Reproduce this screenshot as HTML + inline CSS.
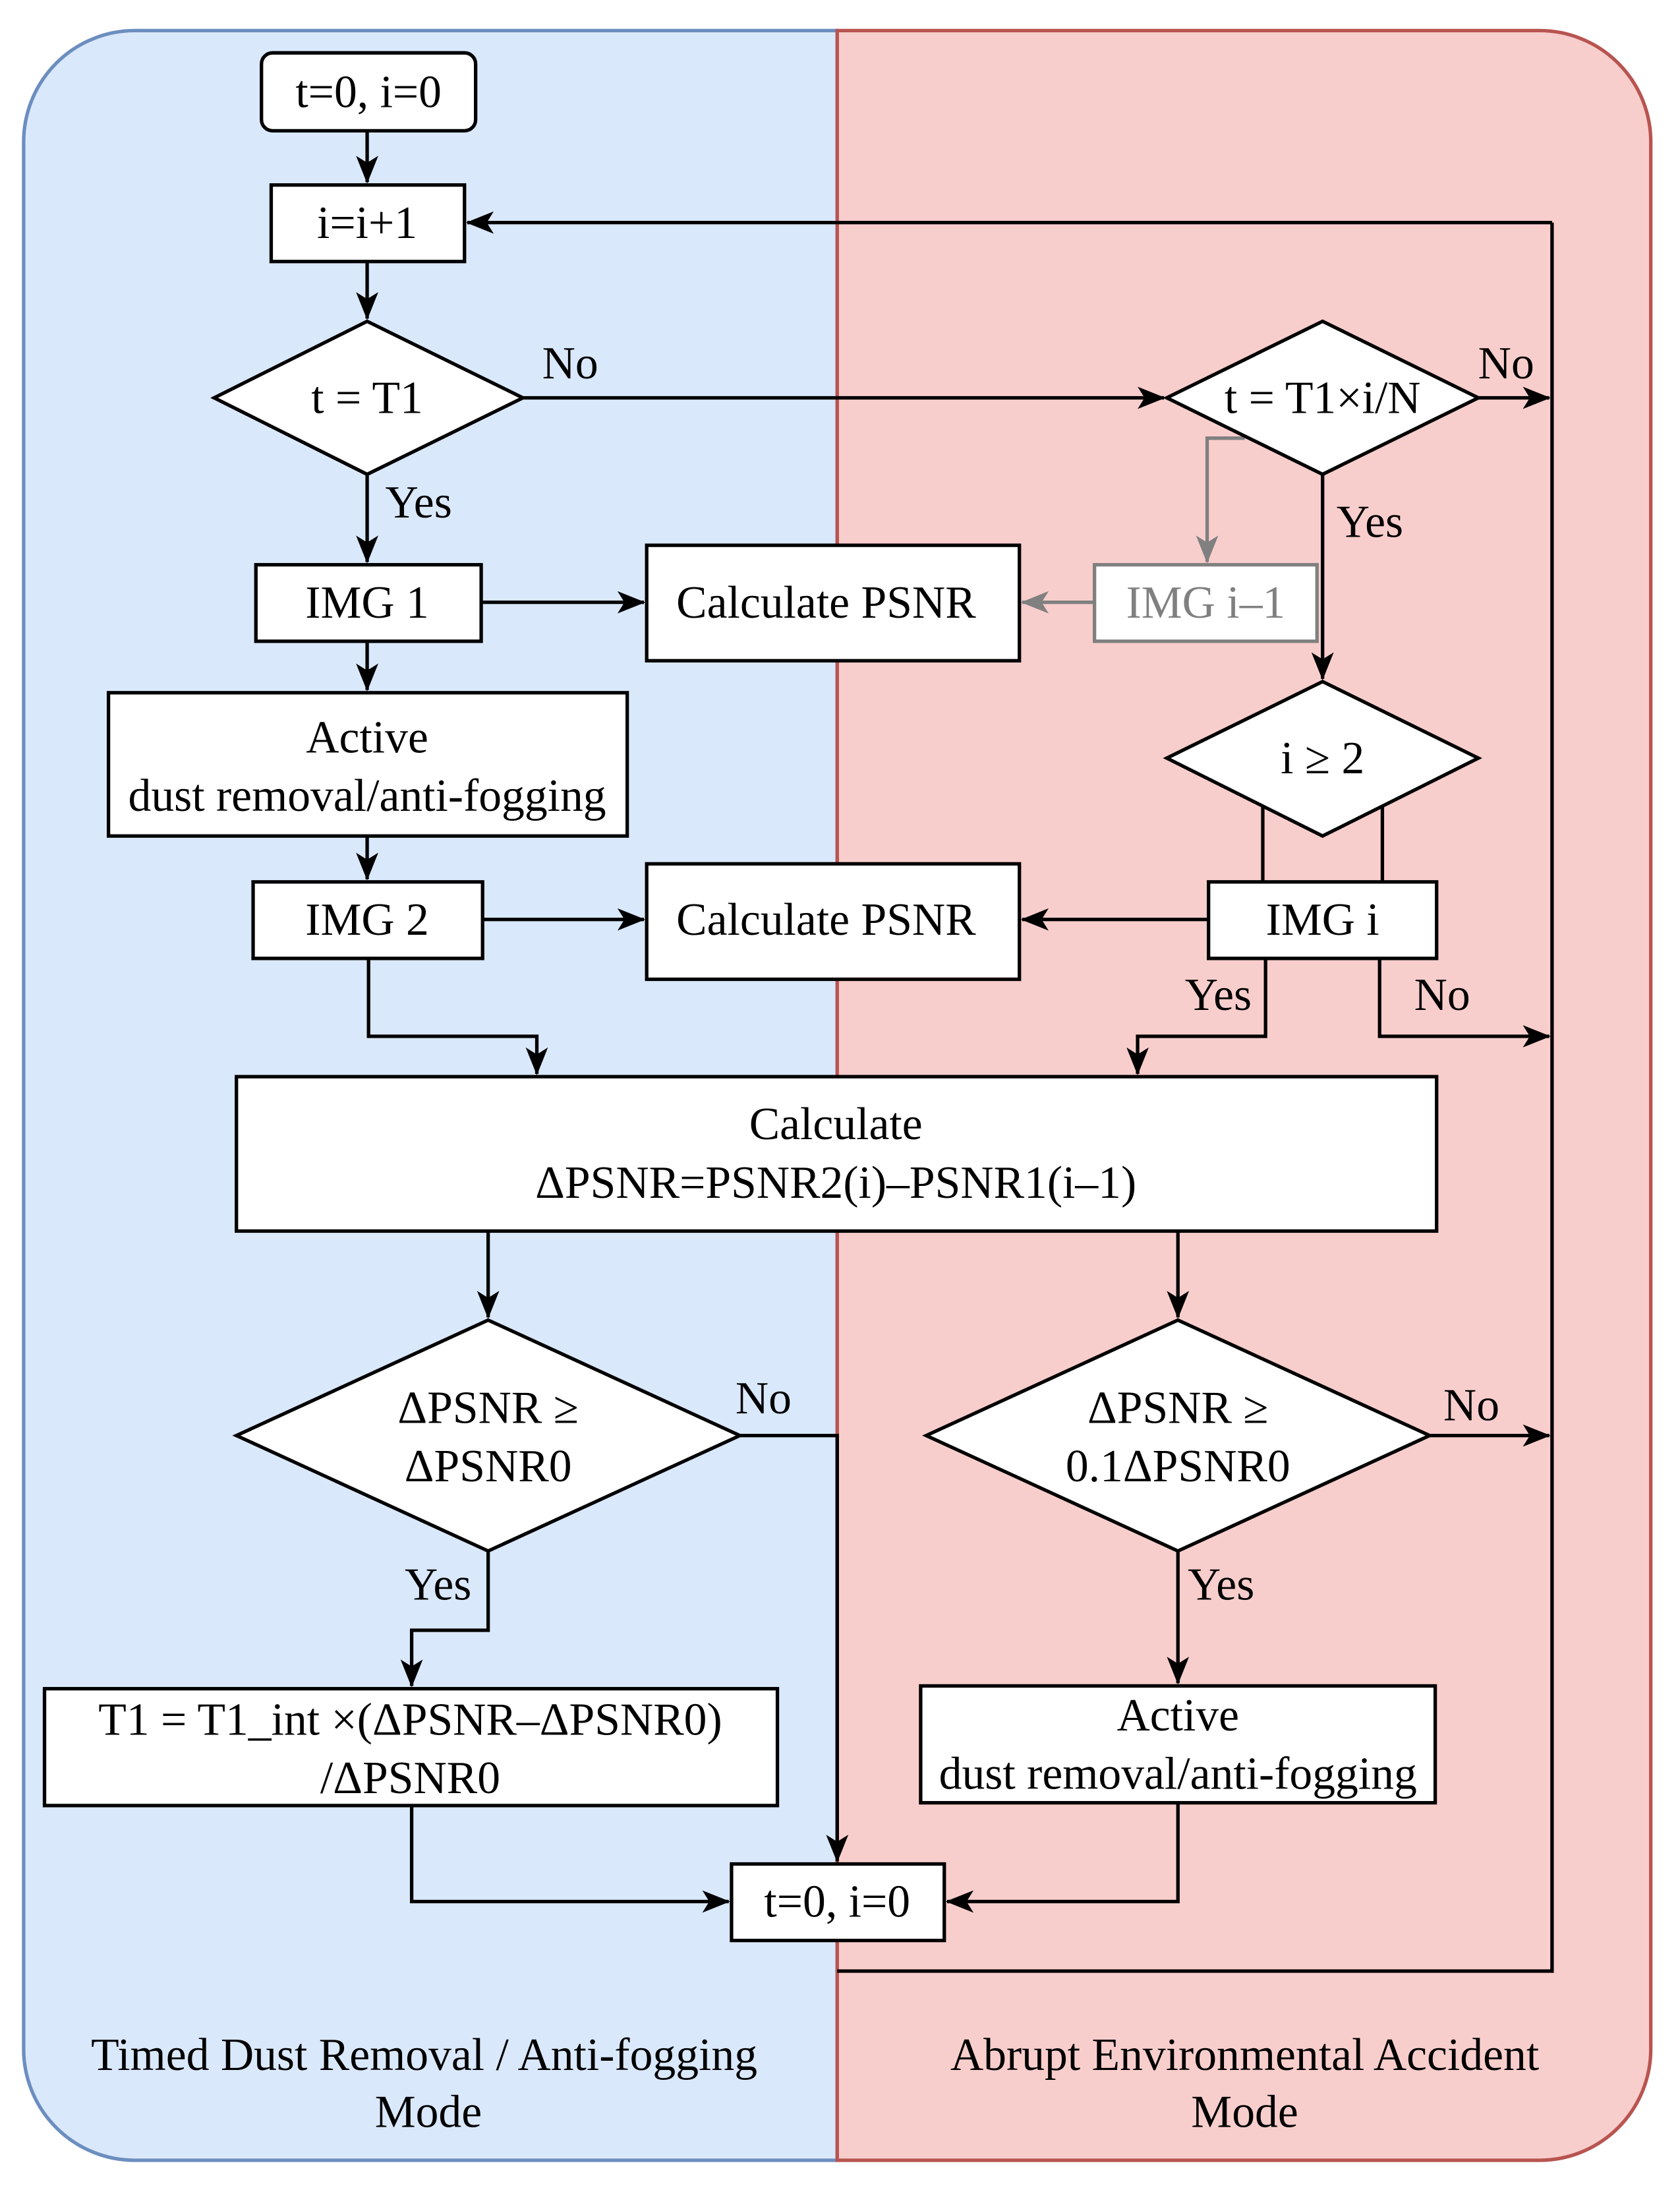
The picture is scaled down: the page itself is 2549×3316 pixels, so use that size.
<!DOCTYPE html>
<html><head><meta charset="utf-8"><style>html,body{margin:0;padding:0;background:#fff}svg{display:block}text{font-family:"Liberation Serif","Times New Roman",serif;font-size:33px}</style></head>
<body>
<svg width="2549" height="3316" viewBox="0 0 1208 1571.5" xmlns="http://www.w3.org/2000/svg">
<defs>
<marker id="k" viewBox="0 0 20 16" refX="19" refY="8" markerWidth="20" markerHeight="16" orient="auto" markerUnits="userSpaceOnUse"><path d="M0,0 L20,8 L0,16 L5,8 Z" fill="#000"/></marker>
<marker id="g" viewBox="0 0 20 16" refX="19" refY="8" markerWidth="20" markerHeight="16" orient="auto" markerUnits="userSpaceOnUse"><path d="M0,0 L20,8 L0,16 L5,8 Z" fill="#808080"/></marker>
</defs>
<path d="M97,22 H602 V1553 H97 A80,80 0 0 1 17,1473 V102 A80,80 0 0 1 97,22 Z" fill="#dae8fc" stroke="#6c8ebf" stroke-width="2.5"/>
<path d="M602,22 H1107 A80,80 0 0 1 1187,102 V1473 A80,80 0 0 1 1107,1553 H602 Z" fill="#f8cecc" stroke="#b85450" stroke-width="2.5"/>
<g fill="none" stroke="#000" stroke-width="2.5">
<path d="M264,94 V131" marker-end="url(#k)"/>
<path d="M264,188 V229" marker-end="url(#k)"/>
<path d="M264,341 V404" marker-end="url(#k)"/>
<path d="M376,286 H837" marker-end="url(#k)"/>
<path d="M1063,286 H1114" marker-end="url(#k)"/>
<path d="M951,341 V488" marker-end="url(#k)"/>
<path d="M1116,160 H336" marker-end="url(#k)"/>
<path d="M1116,160 V1417 H602"/>
<path d="M346,433 H463" marker-end="url(#k)"/>
<path d="M264,461 V496" marker-end="url(#k)"/>
<path d="M264,601 V632" marker-end="url(#k)"/>
<path d="M347,661 H463" marker-end="url(#k)"/>
<path d="M869,661 H735" marker-end="url(#k)"/>
<path d="M908,580 V634 M994,580 V634"/>
<path d="M910,689 V745 H818 V772" marker-end="url(#k)"/>
<path d="M992,689 V745 H1114" marker-end="url(#k)"/>
<path d="M265,689 V745 H386 V772" marker-end="url(#k)"/>
<path d="M351,885 V947" marker-end="url(#k)"/>
<path d="M847,885 V947" marker-end="url(#k)"/>
<path d="M532,1032 H602 V1338" marker-end="url(#k)"/>
<path d="M351,1115 V1172 H296 V1212" marker-end="url(#k)"/>
<path d="M1028,1032 H1114" marker-end="url(#k)"/>
<path d="M847,1115 V1210" marker-end="url(#k)"/>
<path d="M296,1298 V1367 H524" marker-end="url(#k)"/>
<path d="M847,1296 V1367 H681" marker-end="url(#k)"/>
</g>
<g fill="none" stroke="#808080" stroke-width="2.5">
<path d="M895,315 H868 V404" marker-end="url(#g)"/>
<path d="M787,433 H735" marker-end="url(#g)"/>
</g>
<g fill="#fff" stroke="#000" stroke-width="2.5">
<rect x="188" y="38" width="154" height="56" rx="8"/>
<rect x="195" y="133" width="139" height="55"/>
<polygon points="154,286 264,231 376,286 264,341"/>
<polygon points="839,286 951,231 1063,286 951,341"/>
<rect x="184" y="406" width="162" height="55"/>
<rect x="465" y="392" width="268" height="83"/>
<rect x="787" y="406" width="160" height="55" stroke="#808080"/>
<rect x="78" y="498" width="373" height="103"/>
<polygon points="839,545 951,490 1063,545 951,601"/>
<rect x="182" y="634" width="165" height="55"/>
<rect x="465" y="621" width="268" height="83"/>
<rect x="869" y="634" width="164" height="55"/>
<rect x="170" y="774" width="863" height="111"/>
<polygon points="170,1032 351,949 532,1032 351,1115"/>
<polygon points="666,1032 847,949 1028,1032 847,1115"/>
<rect x="32" y="1214" width="527" height="84"/>
<rect x="662" y="1212" width="370" height="84"/>
<rect x="526" y="1340" width="153" height="55"/>
</g>
<g text-anchor="middle" fill="#000">
<text x="265" y="77">t=0, i=0</text>
<text x="264" y="171">i=i+1</text>
<text x="264" y="297">t = T1</text>
<text x="951" y="297">t = T1×i/N</text>
<text x="264" y="444">IMG 1</text>
<text x="594" y="444">Calculate PSNR</text>
<text x="867" y="444" fill="#808080">IMG i–1</text>
<text x="264" y="541">Active</text>
<text x="264" y="583">dust removal/anti-fogging</text>
<text x="951" y="556">i ≥ 2</text>
<text x="264" y="672">IMG 2</text>
<text x="594" y="672">Calculate PSNR</text>
<text x="951" y="672">IMG i</text>
<text x="601" y="819">Calculate</text>
<text x="601" y="861">ΔPSNR=PSNR2(i)–PSNR1(i–1)</text>
<text x="351" y="1023">ΔPSNR ≥</text>
<text x="351" y="1065">ΔPSNR0</text>
<text x="847" y="1023">ΔPSNR ≥</text>
<text x="847" y="1065">0.1ΔPSNR0</text>
<text x="295" y="1247">T1 = T1_int ×(ΔPSNR–ΔPSNR0)</text>
<text x="295" y="1289">/ΔPSNR0</text>
<text x="847" y="1244">Active</text>
<text x="847" y="1286">dust removal/anti-fogging</text>
<text x="602" y="1378">t=0, i=0</text>
<text x="305" y="1488">Timed Dust Removal / Anti-fogging</text>
<text x="308" y="1529">Mode</text>
<text x="895" y="1488">Abrupt Environmental Accident</text>
<text x="895" y="1529">Mode</text>
<text x="410" y="272">No</text>
<text x="1083" y="272">No</text>
<text x="301" y="372">Yes</text>
<text x="985" y="386">Yes</text>
<text x="876" y="726">Yes</text>
<text x="1037" y="726">No</text>
<text x="549" y="1016">No</text>
<text x="315" y="1150">Yes</text>
<text x="1058" y="1021">No</text>
<text x="878" y="1150">Yes</text>
</g>
</svg>
</body></html>
